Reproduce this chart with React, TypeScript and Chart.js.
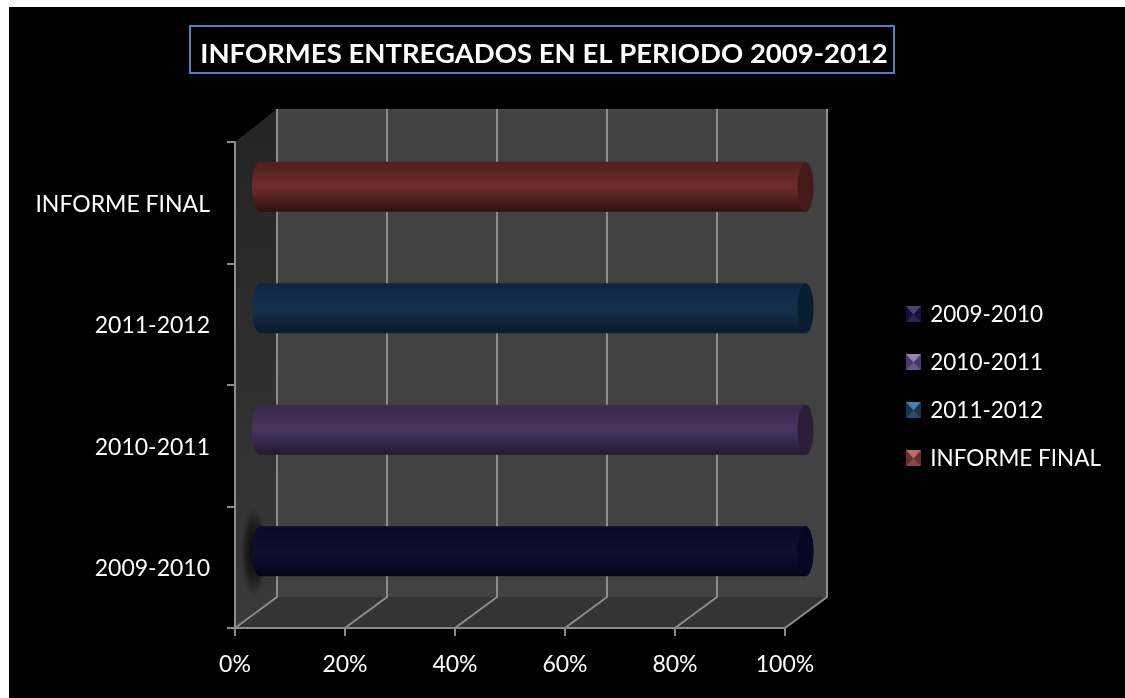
import React, { useEffect, useRef } from "react";
import { Chart, registerables } from "chart.js";

Chart.register(...registerables);

const titleText = "INFORMES ENTREGADOS EN EL PERIODO 2009-2012";
const categories = ["2009-2010", "2010-2011", "2011-2012", "INFORME FINAL"];
const series2009 = [100, 0, 0, 0];
const series2010 = [0, 100, 0, 0];
const series2011 = [0, 0, 100, 0];
const seriesFinal = [0, 0, 0, 100];
const seriesValues = [series2009, series2010, series2011, seriesFinal];
const tickValues = [0, 20, 40, 60, 80, 100];

const barShades = [
  ["#09092a", "#101036", "#05051a", "#060624"],
  ["#39294c", "#4a3560", "#241930", "#2a1f37"],
  ["#0f2640", "#15304e", "#0a1a2e", "#0a1c32"],
  ["#4f2020", "#6f2e2e", "#2e1010", "#451a1a"],
];
const keyShades = [
  ["#15113a", "#4a4470", "#2c2748"],
  ["#4a3a63", "#9484b4", "#6a5a82"],
  ["#17324f", "#4f7ea8", "#2f4a68"],
  ["#6f2b2b", "#c26a6a", "#8a4646"],
];

const FONT = "Lato";
const LINE = "#8c8c8c";
const DEPTH_X = 42;
const DEPTH_Y = 31;

function makeKey(shades: string[]) {
  const c = document.createElement("canvas");
  c.width = 15;
  c.height = 16;
  const g = c.getContext("2d")!;
  g.fillStyle = shades[0];
  g.fillRect(0, 0, 15, 16);
  g.fillStyle = shades[1];
  g.beginPath();
  g.moveTo(0, 0);
  g.lineTo(15, 0);
  g.lineTo(7.5, 8);
  g.closePath();
  g.fill();
  g.fillStyle = shades[2];
  g.beginPath();
  g.moveTo(0, 16);
  g.lineTo(15, 16);
  g.lineTo(7.5, 8);
  g.closePath();
  g.fill();
  return c;
}

const scene = {
  id: "scene",
  beforeDraw(chart: any) {
    const { ctx, chartArea: a, scales } = chart;
    ctx.save();
    ctx.fillStyle = "#ffffff";
    ctx.fillRect(0, 0, chart.width, chart.height);
    ctx.fillStyle = "#000000";
    ctx.fillRect(9, 7, chart.width - 9, chart.height - 7);

    const topBack = a.top - 33;
    const left = a.left, right = a.right, bottom = a.bottom, top = a.top;
    const bx = left + DEPTH_X, by = bottom - DEPTH_Y;

    ctx.fillStyle = "#424242";
    ctx.fillRect(bx, topBack, right - left, by - topBack);
    ctx.fillStyle = "#343434";
    ctx.beginPath();
    ctx.moveTo(left, bottom);
    ctx.lineTo(right, bottom);
    ctx.lineTo(right + DEPTH_X, by);
    ctx.lineTo(bx, by);
    ctx.closePath();
    ctx.fill();
    const sg = ctx.createLinearGradient(0, top, 0, bottom);
    sg.addColorStop(0, "#252525");
    sg.addColorStop(1, "#3a3a3a");
    ctx.fillStyle = sg;
    ctx.beginPath();
    ctx.moveTo(left, top);
    ctx.lineTo(bx, topBack);
    ctx.lineTo(bx, by);
    ctx.lineTo(left, bottom);
    ctx.closePath();
    ctx.fill();

    ctx.strokeStyle = LINE;
    ctx.lineWidth = 2;
    scales.x.ticks.forEach((_: any, i: number) => {
      const x = scales.x.getPixelForTick(i);
      ctx.beginPath();
      ctx.moveTo(x, bottom);
      ctx.lineTo(x + DEPTH_X, by);
      ctx.lineTo(x + DEPTH_X, topBack);
      ctx.stroke();
    });

    const el = chart.getDatasetMeta(0).data[0];
    if (el) {
      const sx = left + 19, sy = el.y - 15;
      ctx.save();
      ctx.translate(sx, sy);
      ctx.scale(1, 3.4);
      const rg = ctx.createRadialGradient(0, 0, 2, 0, 0, 13);
      rg.addColorStop(0, "rgba(10,10,10,0.95)");
      rg.addColorStop(0.6, "rgba(15,15,15,0.6)");
      rg.addColorStop(1, "rgba(20,20,20,0)");
      ctx.fillStyle = rg;
      ctx.beginPath();
      ctx.arc(0, 0, 13, 0, Math.PI * 2);
      ctx.fill();
      ctx.restore();
    }

    ctx.strokeStyle = "#4f81bd";
    ctx.lineWidth = 2;
    ctx.strokeRect(190, 26, 704, 47);
    ctx.restore();

    const tb = chart.titleBlock;
    tb.left = 190;
    tb.right = 898;
    tb.top = 26;
    const lg = chart.legend;
    lg.left = 908 - lg.options.labels.padding;
    lg.right = chart.width;
    lg.top = 303 - lg.options.labels.padding;
    lg.bottom = chart.height;
  },
  beforeDatasetsDraw(chart: any) {
    const { ctx, chartArea: a } = chart;
    ctx.save();
    ctx.translate(a.left + 23.5, -16);
    ctx.scale(547 / (a.right - a.left), 1);
    ctx.translate(-a.left, 0);
    chart.data.datasets.forEach((_: any, d: number) => {
      chart.getDatasetMeta(d).data.forEach((el: any) => {
        if (Math.abs(el.x - el.base) < 1) return;
        ctx.fillStyle = el.options.backgroundColor;
        ctx.beginPath();
        ctx.ellipse(el.base + 0.5, el.y, 8, el.height / 2, 0, 0, Math.PI * 2);
        ctx.fill();
        ctx.beginPath();
        ctx.ellipse(el.x, el.y, 8, el.height / 2, 0, 0, Math.PI * 2);
        ctx.fill();
      });
    });
  },
  afterDatasetsDraw(chart: any) {
    const { ctx } = chart;
    chart.data.datasets.forEach((_: any, d: number) => {
      chart.getDatasetMeta(d).data.forEach((el: any) => {
        if (Math.abs(el.x - el.base) < 1) return;
        ctx.fillStyle = barShades[d][3];
        ctx.beginPath();
        ctx.ellipse(el.x, el.y, 8, el.height / 2, 0, 0, Math.PI * 2);
        ctx.fill();
      });
    });
    ctx.restore();
  },
};

export default function App() {
  const ref = useRef<HTMLCanvasElement>(null);
  useEffect(() => {
    const keys = keyShades.map(makeKey);
    const chart = new Chart(ref.current!, {
      type: "bar",
      plugins: [scene],
      data: {
        labels: categories,
        datasets: seriesValues.map((values, d) => ({
          label: categories[d],
          data: values,
          clip: false,
          barPercentage: 0.41,
          categoryPercentage: 1,
          backgroundColor: (c: any) => {
            const ch = c.chart;
            const s = barShades[d];
            if (!ch.chartArea || !ch.scales.y) return s[1];
            const y = ch.scales.y.getPixelForValue(c.dataIndex);
            const h = ((ch.chartArea.bottom - ch.chartArea.top) / categories.length) * 0.41;
            if (!isFinite(y) || !isFinite(h)) return s[1];
            const g = ch.ctx.createLinearGradient(0, y - h / 2, 0, y + h / 2);
            g.addColorStop(0, s[0]);
            g.addColorStop(0.5, s[1]);
            g.addColorStop(1, s[2]);
            return g;
          },
        })),
      },
      options: {
        indexAxis: "y",
        responsive: false,
        animation: false,
        events: [],
        layout: { padding: { left: 0, top: 97, right: 340, bottom: 0 } },
        scales: {
          x: {
            stacked: true,
            min: 0,
            max: 100,
            afterFit: (s: any) => { s.height = 70; },
            afterBuildTicks: (s: any) => { s.ticks = tickValues.map((value) => ({ value })); },
            border: { color: LINE, width: 2 },
            grid: { drawOnChartArea: false, color: LINE, lineWidth: 2, tickLength: 8 },
            ticks: {
              color: "#ffffff",
              font: { family: FONT, size: 23 },
              padding: 15,
              maxRotation: 0,
              callback: (v: any) => `${v}%`,
            },
          },
          y: {
            stacked: true,
            reverse: true,
            afterFit: (s: any) => { s.width = 235; },
            border: { color: LINE, width: 2 },
            grid: { drawOnChartArea: false, color: LINE, lineWidth: 2, tickLength: 8 },
            ticks: { color: "#ffffff", font: { family: FONT, size: 23 }, padding: 17, labelOffset: 1.5 },
          },
        },
        plugins: {
          tooltip: { enabled: false },
          title: {
            display: true,
            text: titleText,
            color: "#ffffff",
            font: { family: FONT, size: 27.5, weight: "bold" },
            padding: { top: 12, bottom: 0 },
          },
          legend: {
            display: true,
            position: "chartArea",
            align: "start",
            labels: {
              color: "#ffffff",
              font: { family: FONT, size: 22.5 },
              usePointStyle: true,
              pointStyleWidth: 11,
              padding: 25.5,
              generateLabels: () =>
                categories.map((text, i) => ({
                  text,
                  fontColor: "#ffffff",
                  pointStyle: keys[i],
                  lineWidth: 0,
                  datasetIndex: i,
                })),
            },
          },
        },
      },
    } as any);
    return () => chart.destroy();
  }, []);
  return (
    <div style={{ position: "fixed", left: 0, top: 0, width: 1125, height: 698, background: "#fff" }}>
      <canvas ref={ref} width={1125} height={698} style={{ display: "block" }} />
    </div>
  );
}
